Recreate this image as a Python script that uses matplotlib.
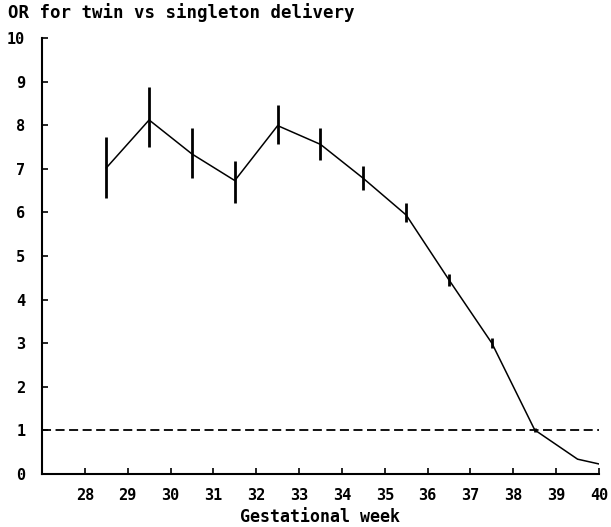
#!/usr/bin/env python3

import numpy as np
import matplotlib
matplotlib.use('Agg')
import matplotlib.pyplot as plt

# odds ratio by gestational week (points sit mid-week)
week = [28.5, 29.5, 30.5, 31.5, 32.5, 33.5, 34.5, 35.5, 36.5, 37.5, 38.5, 39.5, 40.5]
odds = [7.02, 8.12, 7.34, 6.73, 7.99, 7.56, 6.78, 5.94, 4.45, 3.00, 1.01, 0.34, 0.12]
ci_low = [6.32, 7.51, 6.78, 6.21, 7.57, 7.20, 6.51, 5.79, 4.31, 2.88, 0.97, 0.34, 0.12]
ci_high = [7.72, 8.87, 7.93, 7.18, 8.46, 7.93, 7.06, 6.21, 4.59, 3.11, 1.05, 0.34, 0.12]

x_ticks = list(range(28, 41))
y_ticks = list(range(0, 11))
ref_level = 1.0

FONT = 'DejaVu Sans Mono'

fig = plt.figure(figsize=(6.11, 5.27), dpi=100)
ax = fig.add_axes([42 / 611, 53 / 527, 557 / 611, 436 / 527])

ax.plot(week, odds, color='black', lw=1.1, clip_on=True)
ax.vlines(week, ci_low, ci_high, color='black', lw=2.0)
ax.axhline(ref_level, color='black', lw=1.3, linestyle=(0, (5, 2.5)))

ax.set_xlim(27, 40)
ax.set_ylim(0, 10)

ax.spines['top'].set_visible(False)
ax.spines['right'].set_visible(False)
for s in ('left', 'bottom'):
	ax.spines[s].set_linewidth(1.5)

ax.set_xticks(x_ticks)
ax.set_yticks(y_ticks)
ax.tick_params(axis='both', direction='in', length=4, width=1.2, labelsize=11)
ax.tick_params(axis='x', pad=10)
ax.tick_params(axis='y', pad=12)
for lab in ax.get_xticklabels() + ax.get_yticklabels():
	lab.set_fontfamily(FONT)
	lab.set_fontweight('bold')

fig.text(8 / 611, 1 - 13 / 527, 'OR for twin vs singleton delivery',
	fontfamily=FONT, fontweight='bold', fontsize=12.5, va='center', ha='left')
fig.text(320 / 611, 1 - 517 / 527, 'Gestational week',
	fontfamily=FONT, fontweight='bold', fontsize=12, va='center', ha='center')

fig.savefig('out.png', dpi=100, facecolor='white')
